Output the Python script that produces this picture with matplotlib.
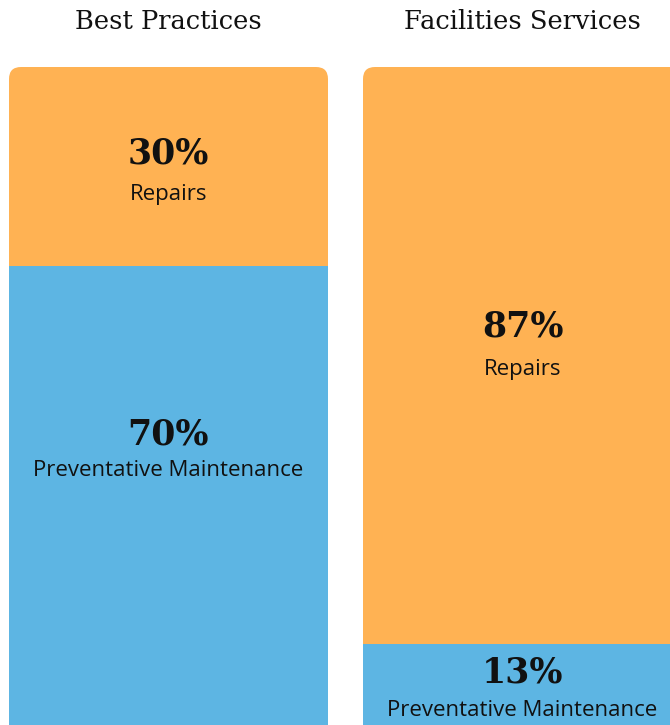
import matplotlib
matplotlib.use("Agg")
import matplotlib.pyplot as plt
from matplotlib.patches import FancyBboxPatch

# ---- data ----
groups = ["Best Practices", "Facilities Services"]
preventative = [70, 13]
repairs = [30, 87]
seg_names = ["Preventative Maintenance", "Repairs"]

# ---- styling / layout ----
orange = "#FFB253"
blue = "#5DB5E3"
txt = "#111111"
bar_width = 319 / 354
# label vertical positions (data units) : (percent, name) for each segment
pm_label_y = [(44.6, 39.1), (8.6, 2.87)]
rep_label_y = [(87.0, 80.7), (60.9, 54.4)]

fig = plt.figure(figsize=(6.7, 7.25), dpi=100)
ax = fig.add_axes([0, 0, 1, 1])
ax.axis("off")
ax.set_xlim(-168.5 / 354, (670 - 168.5) / 354)
ax.set_ylim((730 - 725) / 6.63, 100 + 67 / 6.63)

x = list(range(len(groups)))
b1 = ax.bar(x, preventative, width=bar_width, color=blue, linewidth=0)
b2 = ax.bar(x, repairs, bottom=preventative, width=bar_width, color=orange, linewidth=0)

# rounded clip (top corners) for each stacked column
r_x = 12 / 354
aspect = (12 / 6.63) / r_x
for i in x:
    x0 = i - bar_width / 2
    total = preventative[i] + repairs[i]
    clip = FancyBboxPatch((x0, -10), bar_width, total + 10,
                          boxstyle=f"round,pad=0,rounding_size={r_x}",
                          mutation_aspect=aspect, transform=ax.transData,
                          facecolor="none", edgecolor="none")
    ax.add_patch(clip)
    b1[i].set_clip_path(clip)
    b2[i].set_clip_path(clip)

# titles
for i, g in enumerate(groups):
    ax.text(i, 100 + (67 - 21) / 6.63, g, ha="center", va="center",
            fontsize=18.5, family="DejaVu Serif", color=txt)

# segment labels
for i in x:
    for vals, ys, name in ((preventative, pm_label_y, seg_names[0]),
                           (repairs, rep_label_y, seg_names[1])):
        ax.text(i, ys[i][0], f"{vals[i]}%", ha="center", va="center",
                fontsize=25, family="DejaVu Serif", fontweight="bold", color=txt)
        ax.text(i, ys[i][1], name, ha="center", va="center",
                fontsize=16, family="Open Sans", color=txt)

fig.savefig("out.png", dpi=100)
